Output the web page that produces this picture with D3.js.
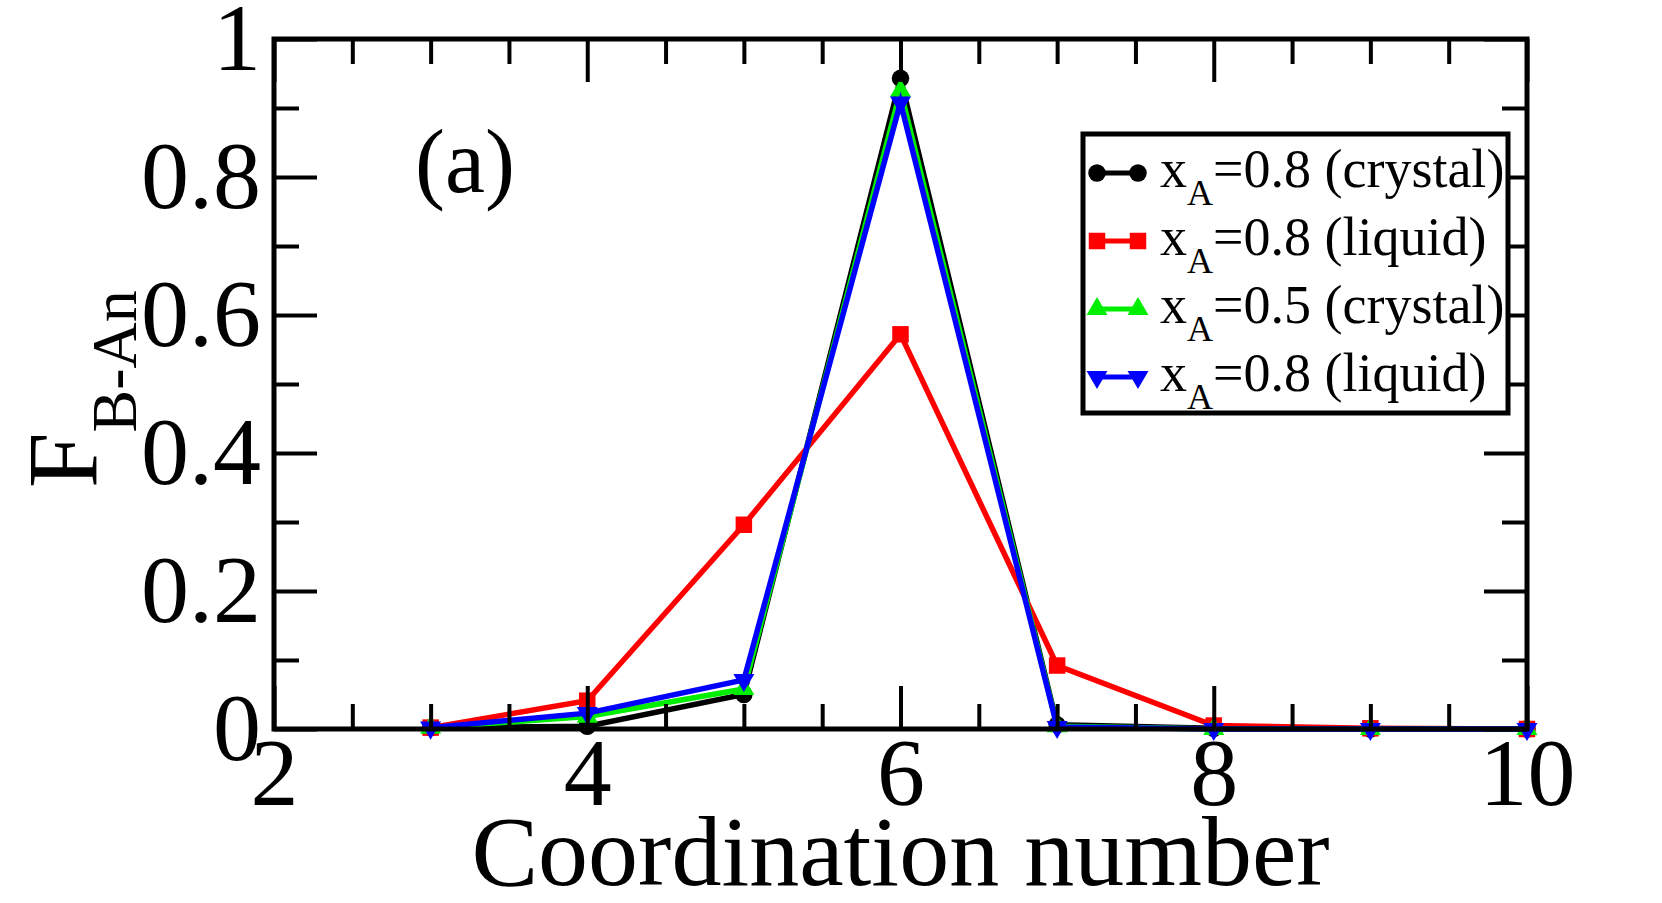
<!DOCTYPE html>
<html>
<head>
<meta charset="utf-8">
<script src="https://cdn.jsdelivr.net/npm/d3@7"></script>
<style>
  body { margin: 0; background: #fff; }
  svg { display: block; }
  svg text { font-family: "Liberation Serif", "Times New Roman", serif; fill: #000; }
</style>
</head>
<body>
<svg id="chart" width="1662" height="903"></svg>
<script>
// coordination numbers
const coordNumbers = [3, 4, 5, 6, 7, 8, 9, 10]

// fraction per series
const crystal08 = [0.002, 0.004, 0.050, 0.943, 0.006, 0.001, 0, 0]
const liquid08 = [0.002, 0.041, 0.296, 0.572, 0.092, 0.005, 0.001, 0]
const crystal05 = [0.002, 0.018, 0.058, 0.925, 0.004, 0, 0, 0]
const liquid08b = [0.002, 0.023, 0.071, 0.908, 0.003, 0, 0, 0]

const seriesNames = ["=0.8 (crystal)", "=0.8 (liquid)", "=0.5 (crystal)", "=0.8 (liquid)"]
const seriesColors = ["#000000", "#ff0000", "#00ee00", "#0000ff"]
const seriesSymbols = ["circle", "square", "up", "down"]

const xMajorTicks = [2, 4, 6, 8, 10]
const yMajorTicks = [0, 0.2, 0.4, 0.6, 0.8, 1]

const width = 1662
const height = 903
const margin = { left: 274, right: 135, top: 39, bottom: 174 }
const serif = '"Liberation Serif", "Times New Roman", serif'

const svg = d3.select("#chart")

const xScale = d3.scaleLinear().domain([2, 10]).range([margin.left, width - margin.right])
const yScale = d3.scaleLinear().domain([0, 1]).range([height - margin.bottom, margin.top])

const x0 = xScale.range()[0], x1 = xScale.range()[1]
const y0 = yScale.range()[0], y1 = yScale.range()[1]

const xMinor = d3.range(2, 10.01, 0.5).filter(d => !xMajorTicks.includes(d))
const yMinor = d3.range(0, 1.01, 0.1).map(d => +d.toFixed(1)).filter(d => !yMajorTicks.includes(d))

function symbolPath(kind) {
  if (kind === "circle") return d3.symbol(d3.symbolCircle, 240)()
  if (kind === "square") return d3.symbol(d3.symbolSquare, 272)()
  return d3.symbol(d3.symbolTriangle, 190)()
}

const allSeries = [crystal08, liquid08, crystal05, liquid08b]

const line = d3.line()
  .x(d => xScale(d.x))
  .y(d => yScale(d.y))

// data, each set: line then symbols
allSeries.forEach((vals, i) => {
  const pts = vals.map((v, k) => ({ x: coordNumbers[k], y: v }))
  const g = svg.append("g")
  g.append("path")
    .datum(pts)
    .attr("fill", "none")
    .attr("stroke", seriesColors[i])
    .attr("stroke-width", 5.5)
    .attr("stroke-linejoin", "miter")
    .attr("d", line)
  g.selectAll("path.sym")
    .data(pts)
    .join("path")
    .attr("class", "sym")
    .attr("fill", seriesColors[i])
    .attr("d", symbolPath(seriesSymbols[i]))
    .attr("transform", d => `translate(${xScale(d.x)},${yScale(d.y)})` + (seriesSymbols[i] === "down" ? " rotate(180)" : ""))
})

// axes, ticks pointing inward
function styleAxis(g) {
  g.select(".domain").remove()
  g.selectAll(".tick line").attr("stroke", "#000").attr("stroke-width", 4)
  g.selectAll(".tick text").attr("font-size", 96).attr("fill", "#000")
    .attr("font-family", serif)
}

svg.append("g")
  .attr("transform", `translate(0,${y0})`)
  .call(d3.axisBottom(xScale).tickValues(xMajorTicks).tickFormat(d3.format("d")).tickSize(-43).tickSizeOuter(0).tickPadding(8))
  .call(styleAxis)
svg.append("g")
  .attr("transform", `translate(0,${y0})`)
  .call(d3.axisBottom(xScale).tickValues(xMinor).tickFormat("").tickSize(-25).tickSizeOuter(0))
  .call(styleAxis)
svg.append("g")
  .attr("transform", `translate(0,${y1})`)
  .call(d3.axisTop(xScale).tickValues(xMajorTicks).tickFormat("").tickSize(-43).tickSizeOuter(0))
  .call(styleAxis)
svg.append("g")
  .attr("transform", `translate(0,${y1})`)
  .call(d3.axisTop(xScale).tickValues(xMinor).tickFormat("").tickSize(-25).tickSizeOuter(0))
  .call(styleAxis)

svg.append("g")
  .attr("transform", `translate(${x0},0)`)
  .call(d3.axisLeft(yScale).tickValues(yMajorTicks).tickFormat(d => d === 0 || d === 1 ? d3.format("d")(d) : d3.format(".1f")(d)).tickSize(-43).tickSizeOuter(0).tickPadding(13))
  .call(styleAxis)
svg.append("g")
  .attr("transform", `translate(${x0},0)`)
  .call(d3.axisLeft(yScale).tickValues(yMinor).tickFormat("").tickSize(-25).tickSizeOuter(0))
  .call(styleAxis)
svg.append("g")
  .attr("transform", `translate(${x1},0)`)
  .call(d3.axisRight(yScale).tickValues(yMajorTicks).tickFormat("").tickSize(-43).tickSizeOuter(0))
  .call(styleAxis)
svg.append("g")
  .attr("transform", `translate(${x1},0)`)
  .call(d3.axisRight(yScale).tickValues(yMinor).tickFormat("").tickSize(-25).tickSizeOuter(0))
  .call(styleAxis)

// frame
svg.append("rect")
  .attr("x", x0).attr("y", y1)
  .attr("width", x1 - x0).attr("height", y0 - y1)
  .attr("fill", "none").attr("stroke", "#000").attr("stroke-width", 5)

// axis titles
svg.append("text")
  .attr("x", (x0 + x1) / 2)
  .attr("y", 885)
  .attr("text-anchor", "middle")
  .attr("font-family", serif)
  .attr("font-size", 100)
  .text("Coordination number")

const yTitle = svg.append("text")
  .attr("font-family", serif)
  .attr("transform", `translate(96,${(y0 + y1) / 2 + 104}) rotate(-90)`)
yTitle.append("tspan").attr("font-size", 100).text("F")
yTitle.append("tspan").attr("font-size", 64).attr("dy", 40).text("B-An")

// panel label
svg.append("text")
  .attr("x", 415).attr("y", 192)
  .attr("font-family", serif)
  .attr("font-size", 90)
  .text("(a)")

// legend
const legend = svg.append("g")
legend.append("rect")
  .attr("x", 1083).attr("y", 134)
  .attr("width", 425).attr("height", 279)
  .attr("fill", "#fff").attr("stroke", "#000").attr("stroke-width", 5)

seriesNames.forEach((name, i) => {
  const cy = 173 + i * 68
  const row = legend.append("g")
  row.append("line")
    .attr("x1", 1097).attr("x2", 1138).attr("y1", cy).attr("y2", cy)
    .attr("stroke", seriesColors[i]).attr("stroke-width", 5)
  ;[1097, 1138].forEach(cx => {
    row.append("path")
      .attr("fill", seriesColors[i])
      .attr("d", symbolPath(seriesSymbols[i]))
      .attr("transform", `translate(${cx},${cy})` + (seriesSymbols[i] === "down" ? " rotate(180)" : ""))
  })
  const t = row.append("text")
    .attr("x", 1160).attr("y", cy + 14)
    .attr("font-family", serif)
    .attr("font-size", 54)
  t.append("tspan").text("x")
  t.append("tspan").attr("font-size", 36).attr("dy", 18).text("A")
  t.append("tspan").attr("dy", -18).text(name)
})
</script>
</body>
</html>
